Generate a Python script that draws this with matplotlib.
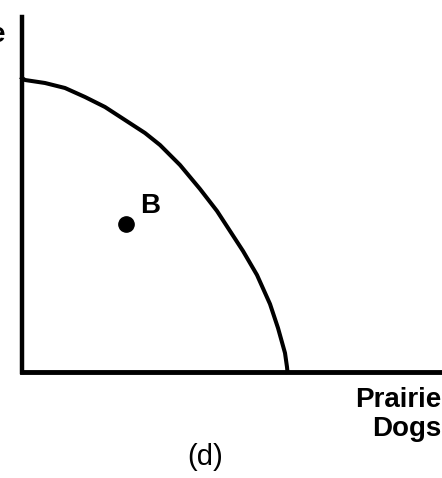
import numpy as np
import matplotlib.pyplot as plt

# PPF curve (units = pixels from the origin)
curve_x = [0, 3, 23, 43, 63, 83, 103, 123, 138, 158, 178, 195, 208, 221, 235, 248, 256, 263, 265, 265.5]
curve_y = [294, 292, 289, 284, 275, 265, 252, 239, 227, 207, 183, 161, 141, 121, 97, 68, 44, 19, 5, 0]

point_x = [104]
point_y = [148]
point_label = "B"

x_label = "Prairie\nDogs"
panel_label = "(d)"

plt.rcParams['font.family'] = ['Liberation Sans', 'DejaVu Sans']

fig = plt.figure(figsize=(4.42, 4.78), dpi=100)
W, H = 442, 478
ox, oy = 22, 372
ax = fig.add_axes([ox / W, (H - oy) / H, (W - ox) / W, (oy - 17) / H])
ax.set_xlim(0, W - ox)
ax.set_ylim(0, oy - 17)

ax.plot(curve_x, curve_y, color='black', linewidth=2.9, solid_joinstyle='round', clip_on=False)
ax.plot(point_x, point_y, 'o', color='black', markersize=11)
ax.text(point_x[0] + 14, point_y[0] + 11, point_label, fontsize=20, fontweight='bold',
        va='baseline', ha='left')

for s in ['top', 'right']:
    ax.spines[s].set_visible(False)
ax.spines['left'].set_linewidth(3.2)
ax.spines['bottom'].set_linewidth(3.5)
ax.set_xticks([])
ax.set_yticks([])

fig.text(441 / W, 1 - 387 / H, x_label, fontsize=20, fontweight='bold',
         ha='right', va='top', multialignment='right', linespacing=1.15)
fig.text(205 / W, 1 - 457 / H, panel_label, fontsize=21, ha='center', va='center')
fig.text(5 / W, 1 - 35 / H, "e", fontsize=20, fontweight='bold', ha='right', va='center')

plt.savefig("out.png", dpi=100)
